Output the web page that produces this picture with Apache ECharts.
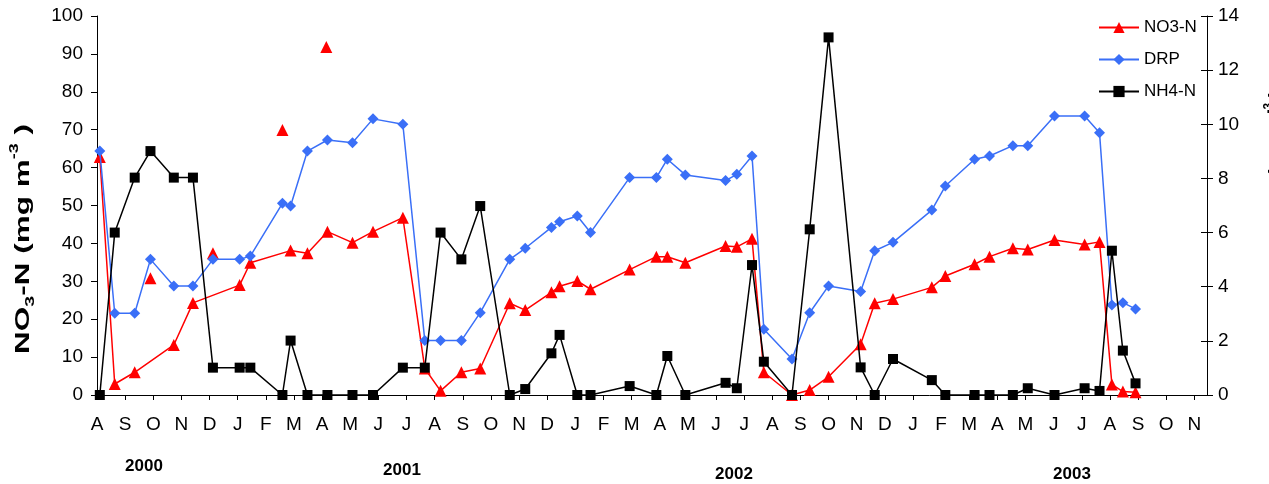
<!DOCTYPE html>
<html><head><meta charset="utf-8">
<script src="https://cdn.jsdelivr.net/npm/echarts@6/dist/echarts.min.js"></script>
<style>html,body{margin:0;padding:0;background:#fff}#c{width:1269px;height:484px}</style>
</head><body><div id="c"></div>
<script>
// Month tick labels, Aug 2000 .. Nov 2003
const monthLabels = ['A','S','O','N','D','J','F','M','A','M','J','J',
  'A','S','O','N','D','J','F','M','A','M','J','J',
  'A','S','O','N','D','J','F','M','A','M','J','J',
  'A','S','O','N'];
const yearLabels = ['2000','2001','2002','2003'];
// Sampling time, in months after 1 Aug 2000
const sampleMonth = [0.1,0.63,1.34,1.9,2.73,3.41,4.12,5.07,5.45,6.59,6.88,7.48,8.19,9.08,9.81,10.87,11.65,12.21,12.95,13.62,
  14.67,15.22,16.15,16.44,17.07,17.54,18.93,19.88,20.27,20.91,22.34,22.74,23.28,23.70,24.70,25.33,26.0,27.14,27.64,28.29,
  29.67,30.15,31.19,31.72,32.55,33.08,34.03,35.1,35.63,36.07,36.46,36.91];
const no3 = [62.8,2.9,6.0,null,13.2,24.3,null,29.0,34.9,null,38.1,37.4,43.1,40.2,43.1,46.8,7.0,1.1,6.0,7.0,
  24.2,22.4,27.1,28.7,30.1,27.9,33.1,36.5,36.5,34.9,39.3,39.1,41.2,6.0,0,1.3,4.8,13.4,24.2,25.3,
  28.4,31.4,34.5,36.5,38.7,38.4,40.9,39.7,40.4,2.8,0.9,0.7];
const no3ExtraMonth = [1.9,4.12,6.59,8.15];
const no3Extra = [30.8,37.4,69.9,91.8];
const drp = [9.01,3.02,3.02,5.01,4.03,4.03,5.01,5.01,5.13,7.08,6.98,9.01,9.42,9.32,10.2,10.0,2.01,2.01,2.01,3.04,
  5.01,5.42,6.19,6.40,6.61,6.0,8.03,8.03,8.71,8.13,7.92,8.15,8.83,2.43,1.33,3.04,4.03,3.82,5.33,5.64,
  6.83,7.72,8.71,8.83,9.21,9.21,10.31,10.31,9.69,3.32,3.41,3.18];
const nh4 = [0,6.0,8.03,9.01,8.03,8.03,1.01,1.01,1.01,0,2.01,0,0,0,0,1.01,1.01,6.0,5.01,6.98,
  0,0.22,1.54,2.22,0,0,0.33,0,1.44,0,0.45,0.25,4.80,1.23,0,6.12,13.21,1.02,0,1.33,
  0.55,0,0,0,0,0.25,0,0.25,0.15,5.33,1.64,0.43];

const FONT = "'Liberation Sans', Arial, sans-serif";
const pairs = (xs, ys) => xs.map((x, i) => [x, ys[i] == null ? '-' : ys[i]]);
const RED = '#ff0000', BLUE = '#3a6ff7', BLACK = '#000000';

const chart = echarts.init(document.getElementById('c'), null, {renderer: 'canvas'});
const axisTxt = {color: '#000', fontFamily: FONT, fontSize: 19};
const rich = {
  n: {fontFamily: FONT, fontWeight: 'bold', fontSize: 21, lineHeight: 28, fill: '#000', color: '#000'},
  sub: {fontFamily: FONT, fontWeight: 'bold', fontSize: 13, lineHeight: 28, verticalAlign: 'bottom', fill: '#000', color: '#000'},
  sup: {fontFamily: FONT, fontWeight: 'bold', fontSize: 12, lineHeight: 28, verticalAlign: 'top', fill: '#000', color: '#000'}
};
const yearPos = [[144,466],[402,470],[734,474],[1072,474]];

chart.setOption({
  animation: false,
  backgroundColor: '#fff',
  grid: {left: 97, right: 62, top: 16, bottom: 89, containLabel: false, outerBoundsMode: 'none'},
  legend: {
    data: ['NO3-N', 'DRP', 'NH4-N'],
    orient: 'vertical', left: 1093, top: 14,
    itemWidth: 40, itemHeight: 14, itemGap: 15,
    textStyle: {color: '#000', fontFamily: FONT, fontSize: 17}
  },
  xAxis: {
    type: 'value', min: 0, max: 39.45, interval: 1,
    splitLine: {show: false},
    axisLine: {show: true, onZero: false, lineStyle: {color: '#000', width: 1}},
    axisTick: {show: true, inside: false, length: 5, lineStyle: {color: '#000'}},
    axisLabel: Object.assign({margin: 20, showMaxLabel: false,
      formatter: v => (Number.isInteger(v) && monthLabels[v] !== undefined) ? monthLabels[v] : ''}, axisTxt)
  },
  yAxis: [
    {type: 'value', min: 0, max: 100, interval: 10, position: 'left',
      splitLine: {show: false},
      axisLine: {show: true, lineStyle: {color: '#000'}},
      axisTick: {show: true, length: 6, lineStyle: {color: '#000'}},
      axisLabel: Object.assign({margin: 14}, axisTxt)},
    {type: 'value', min: 0, max: 14, interval: 2, position: 'right',
      splitLine: {show: false},
      axisLine: {show: true, lineStyle: {color: '#000'}},
      axisTick: {show: true, length: 6, lineStyle: {color: '#000'}},
      axisLabel: Object.assign({margin: 11}, axisTxt)},
    {type: 'value', min: 0, max: 14, interval: 2, position: 'right',
      splitLine: {show: false},
      axisLine: {show: false},
      axisTick: {show: true, inside: true, length: 6, lineStyle: {color: '#000'}},
      axisLabel: {show: false}}
  ],
  series: [
    {name: 'NO3-N', type: 'line', yAxisIndex: 0, data: pairs(sampleMonth, no3), connectNulls: true,
      symbol: 'triangle', symbolSize: 12, showAllSymbol: true,
      lineStyle: {color: RED, width: 1.5}, itemStyle: {color: RED}, z: 2},
    {name: 'NO3-N extra', type: 'scatter', yAxisIndex: 0, data: pairs(no3ExtraMonth, no3Extra),
      symbol: 'triangle', symbolSize: 12, itemStyle: {color: RED, opacity: 1}, z: 2},
    {name: 'DRP', type: 'line', yAxisIndex: 1, data: pairs(sampleMonth, drp),
      symbol: 'diamond', symbolSize: 11, showAllSymbol: true,
      lineStyle: {color: BLUE, width: 1.5}, itemStyle: {color: BLUE}, z: 3},
    {name: 'NH4-N', type: 'line', yAxisIndex: 1, data: pairs(sampleMonth, nh4),
      symbol: 'rect', symbolSize: 10, showAllSymbol: true,
      lineStyle: {color: BLACK, width: 1.5}, itemStyle: {color: BLACK}, z: 4}
  ],
  graphic: [
    {type: 'text', x: 23, y: 239, rotation: Math.PI / 2, scaleX: 1.5, silent: true,
      style: {text: '{n|NO}{sub|3}{n|-N (mg m}{sup|-3}{n| )}', rich: rich,
        align: 'center', verticalAlign: 'middle'}},
    {type: 'text', x: 1277, y: 90, rotation: Math.PI / 2, silent: true,
      style: {text: '{n|DRP, NH}{sub|4}{n|-N (mg m}{sup|-3}{n| )}', rich: rich,
        align: 'right', verticalAlign: 'middle'}}
  ].concat(yearLabels.map((t, i) => ({
    type: 'text', x: yearPos[i][0], y: yearPos[i][1], silent: true,
    style: {text: t, fill: '#000', font: 'bold 17px ' + FONT, align: 'center', verticalAlign: 'middle'}
  })))
});
</script>
</body></html>
